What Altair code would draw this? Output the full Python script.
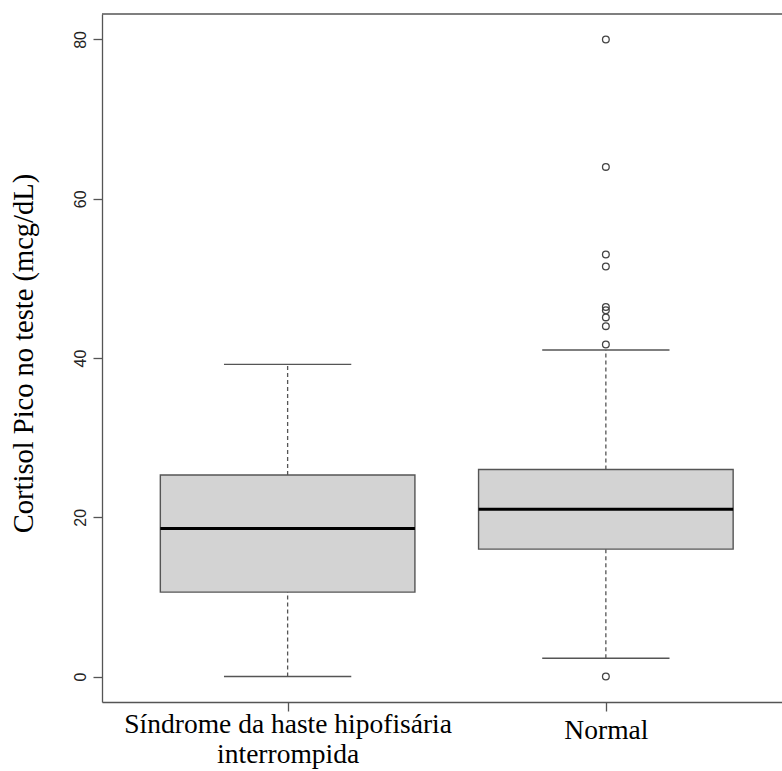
import altair as alt
import pandas as pd

# ---- data ----
groups = ["Síndrome da haste hipofisária interrompida", "Normal"]
label_lines = [["Síndrome da haste hipofisária", "interrompida"], ["Normal"]]
positions = [1, 2]
whisker_low = [0.0, 2.3]
q1 = [10.6, 16.0]
median = [18.6, 21.0]
q3 = [25.3, 26.0]
whisker_high = [39.2, 41.0]
outlier_pos = [2, 2, 2, 2, 2, 2, 2, 2, 2, 2]
outlier_values = [80.0, 64.0, 53.0, 51.5, 46.4, 46.0, 45.1, 44.0, 41.7, 0.0]
y_ticks = [0, 20, 40, 60, 80]
y_title = "Cortisol Pico no teste (mcg/dL)"

box_df = pd.DataFrame({
    "group": groups, "pos": positions, "lo": whisker_low, "q1": q1,
    "med": median, "q3": q3, "hi": whisker_high,
})
out_df = pd.DataFrame({"pos": outlier_pos, "value": outlier_values})

X_DOMAIN = [0.4167, 2.5535]
Y_DOMAIN = [-3.2, 83.2]
LINE = "#555555"

def js_label(lines):
    return "[" + ", ".join("'" + s + "'" for s in lines) + "]"

label_expr = ""
for p, lines in zip(positions, label_lines):
    label_expr += f"datum.value == {p} ? {js_label(lines)} : "
label_expr += "''"

x_axis = alt.Axis(
    values=positions, title=None, labelExpr=label_expr,
    labelFont="Liberation Serif", labelFontSize=27.5, labelColor="black",
    labelBaseline="alphabetic", labelLineHeight=30, labelLimit=0,
    labelPadding={"condition": {"test": "datum.value == 2", "value": 27}, "value": 21},
    labelFlush=False, labelOverlap=False, labelBound=False,
    tickSize=9, tickColor=LINE, tickWidth=1.3, domainColor=LINE, domainWidth=1.3,
    grid=False,
)
y_axis = alt.Axis(
    values=y_ticks, title=y_title, labelAngle=270, labelAlign="center",
    labelBaseline="alphabetic", labelPadding=8, labelFont="Liberation Sans",
    labelFontSize=16, labelColor="#222222", tickSize=9, tickColor=LINE,
    tickWidth=1.3, domainColor=LINE, domainWidth=1.3, grid=False,
    titleFont="Liberation Serif", titleFontSize=28.5, titleFontWeight="normal",
    titleColor="black", titleAngle=270, titleAlign="center",
    titleBaseline="alphabetic", titleX=-70, titleY=339,
)

def X(field):
    return alt.X(f"{field}:Q", scale=alt.Scale(domain=X_DOMAIN, nice=False, zero=False), axis=x_axis)

def Y(field):
    return alt.Y(f"{field}:Q", scale=alt.Scale(domain=Y_DOMAIN, nice=False, zero=False), axis=y_axis)

base = alt.Chart(box_df).transform_calculate(
    xl="datum.pos - 0.4", xr="datum.pos + 0.4",
    cl="datum.pos - 0.2", cr="datum.pos + 0.2",
)

whisk_up = base.mark_rule(color=LINE, strokeWidth=1.3, strokeDash=[4, 3]).encode(
    x=X("pos"), y=Y("q3"), y2="hi:Q")
whisk_dn = base.mark_rule(color=LINE, strokeWidth=1.3, strokeDash=[4, 3]).encode(
    x=X("pos"), y=Y("lo"), y2="q1:Q")
cap_hi = base.mark_rule(color=LINE, strokeWidth=1.4).encode(
    x=X("cl"), x2="cr:Q", y=Y("hi"))
cap_lo = base.mark_rule(color=LINE, strokeWidth=1.4).encode(
    x=X("cl"), x2="cr:Q", y=Y("lo"))
boxes = base.mark_rect(fill="#d3d3d3", stroke=LINE, strokeWidth=1.4).encode(
    x=X("xl"), x2="xr:Q", y=Y("q1"), y2="q3:Q")
medians = base.mark_rule(color="black", strokeWidth=3).encode(
    x=X("xl"), x2="xr:Q", y=Y("med"))
outliers = alt.Chart(out_df).mark_point(
    shape="circle", filled=False, stroke="#444444", strokeWidth=1.3, size=45, opacity=1
).encode(x=X("pos"), y=Y("value"))
top_border = alt.Chart(pd.DataFrame({"a": [0]})).mark_rule(
    color=LINE, strokeWidth=1.3).encode(y=alt.value(0))

chart = alt.layer(
    whisk_up, whisk_dn, cap_hi, cap_lo, boxes, medians, outliers, top_border
).properties(
    width=680, height=688,
    autosize=alt.AutoSizeParams(type="none"),
    padding={"left": 102, "top": 14, "right": 0, "bottom": 69},
    background="white",
).configure_view(stroke=None)

chart.save("out.html", embed_options={"renderer": "svg", "actions": False})
